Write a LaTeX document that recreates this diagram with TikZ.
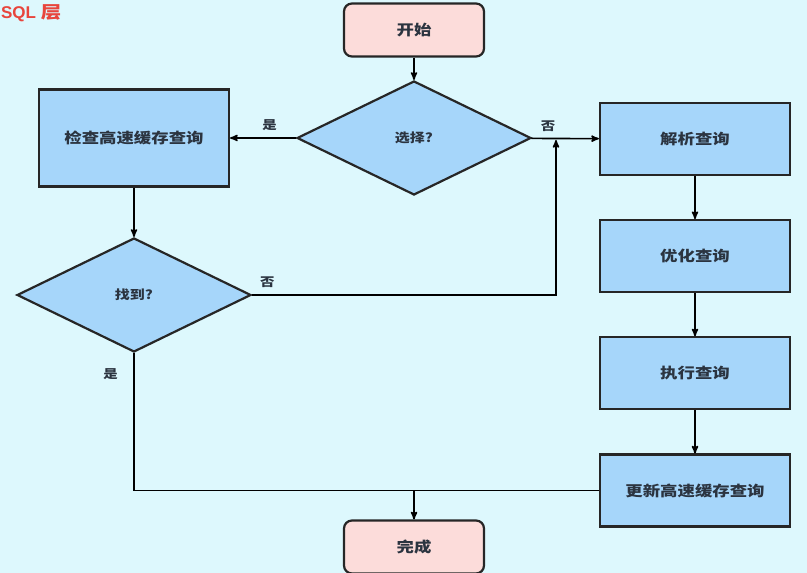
\documentclass[tikz,border=0pt]{standalone}
\usepackage{fontspec}
\newfontfamily\cjk[FakeStretch=1.2]{Noto Sans CJK SC}
\setsansfont{Liberation Sans}
\usepackage{tikz}
\usetikzlibrary{arrows,positioning,shapes.geometric}
\definecolor{bgcyan}{HTML}{DDF8FD}
\definecolor{boxblue}{HTML}{A6D6FA}
\definecolor{termpink}{HTML}{FCDCDA}
\definecolor{titlered}{HTML}{E8453C}
\definecolor{inkgray}{HTML}{2B3440}

\begin{document}
\begin{tikzpicture}[x=1pt,y=1pt,->,>=stealth',node distance=43pt,
  line width=1.6pt,
  proc box/.style={rectangle,draw=black!85,line width=2.2pt,fill=boxblue,
    minimum width=190pt,minimum height=72pt,
    font=\cjk\bfseries\fontsize{14.5}{16}\selectfont,text=inkgray},
  term box/.style={rectangle,rounded corners=8pt,draw=black!85,line width=2.2pt,
    fill=termpink,minimum width=140pt,minimum height=53pt,
    font=\cjk\bfseries\fontsize{14.5}{16}\selectfont,text=inkgray},
  choice node/.style={diamond,draw=black!85,line width=2.2pt,fill=boxblue,
    aspect=2.05,minimum width=234pt,minimum height=114pt,inner sep=0pt,
    font=\cjk\bfseries\fontsize{12.5}{14}\selectfont,text=inkgray},
  lbl/.style={font=\cjk\bfseries\fontsize{12}{14}\selectfont,text=inkgray}]
    \useasboundingbox[fill=bgcyan] (0,0) rectangle (807,573);
    \node[anchor=west,text=titlered,font=\sffamily\bfseries\fontsize{17}{19}\selectfont]
      (title) at (-3,560) {SQL {\cjk 层}};
    \node[term box](start) at (414,543){开始};
    \node[choice node](choose) at (414,435){选择?};
    \node[proc box,minimum height=97pt](check) at (134,435){检查高速缓存查询};
    \node[choice node](found) at (134,278){找到?};
    \node[proc box](parse) at (695,434){解析查询};
    \node[proc box,below=of parse](opt){优化查询};
    \node[proc box,below=of opt](exec){执行查询};
    \node[proc box,below=of exec](update){更新高速缓存查询};
    \node[term box](done) at (414,26){完成};
    \coordinate (join) at (556,433);
    \coordinate (merge) at (done.north |- update.west);
    \path (start) edge (choose)
          (choose) edge node[lbl,above,pos=0.4,yshift=3pt] {是} (check)
          (choose) edge node[lbl,above,pos=0.25,yshift=3pt] {否} (parse)
          (check) edge (found)
          (parse) edge (opt)
          (opt) edge (exec)
          (exec) edge (update)
          (merge) edge (done)
    ;
    \draw (found.east) -- node[lbl,above,pos=0.05,yshift=3pt] {否} (join |- found.east) -- (join);
    \draw[-] (found.south) -- node[lbl,left,pos=0.15,xshift=-12pt] {是} (found.south |- update.west) -- (update.west);
\end{tikzpicture}
\end{document}
